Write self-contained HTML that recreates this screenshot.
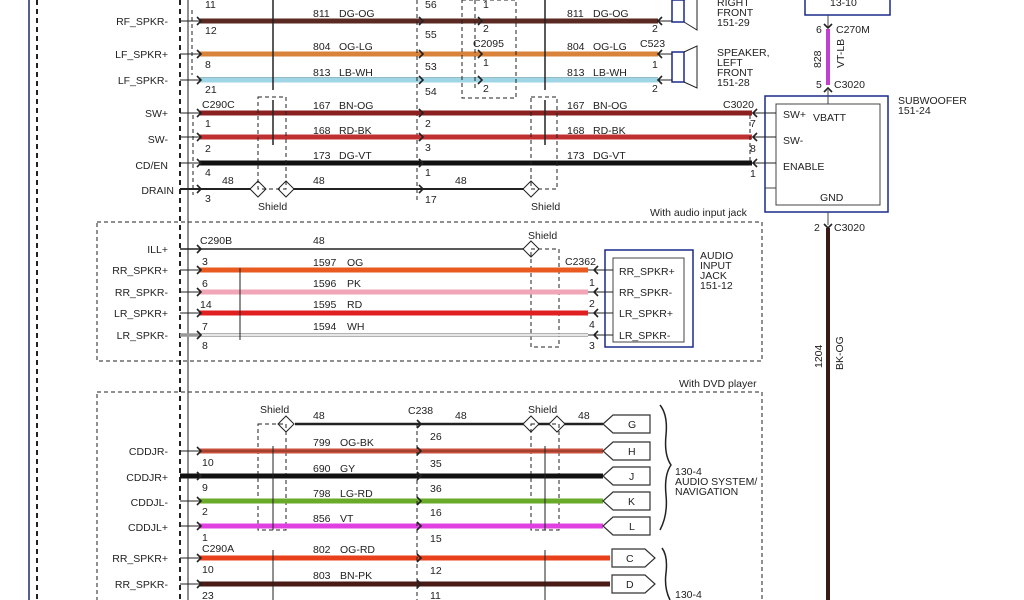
<!DOCTYPE html>
<html><head><meta charset="utf-8"><style>
html,body{margin:0;padding:0;background:#fff;width:1024px;height:600px;overflow:hidden}
svg{display:block}
text{font-family:"Liberation Sans",sans-serif;font-size:10.5px;fill:#222}
.r{text-anchor:end}
.d{stroke:#222;stroke-width:1;stroke-dasharray:4,3;fill:none}
.dt{stroke:#222;stroke-width:2;stroke-dasharray:5,4;fill:none}
.a{stroke:#222;stroke-width:1.6;fill:none}
</style></head><body>
<svg width="1024" height="600" viewBox="0 0 1024 600">
<line x1="29" y1="0" x2="29" y2="600" stroke="#1a2a6a" stroke-width="1.5"/>
<line x1="37" y1="0" x2="37" y2="600" class="dt"/>
<line x1="180" y1="0" x2="180" y2="600" class="dt"/>
<line x1="188" y1="0" x2="188" y2="600" stroke="#222" stroke-width="1"/>
<line x1="192" y1="10" x2="192" y2="75" class="d"/>
<line x1="193" y1="115" x2="193" y2="195" class="d"/>

<g>
<text x="168" y="25" class="r">RF_SPKR-</text>
<line x1="180" y1="21" x2="200" y2="21" stroke="#222"/>
<line x1="200" y1="21" x2="658" y2="21" stroke="#5a2a22" stroke-width="5"/>
<text x="205" y="34">12</text><text x="205" y="8">11</text>
<text x="313" y="17">811</text><text x="339" y="17">DG-OG</text>
<text x="567" y="17">811</text><text x="593" y="17">DG-OG</text>
<text x="425" y="8">56</text><text x="425" y="38">55</text><text x="483" y="8">1</text><text x="483" y="32">2</text><text x="652" y="32">2</text>

<text x="168" y="58" class="r">LF_SPKR+</text>
<line x1="180" y1="54" x2="200" y2="54" stroke="#222"/>
<line x1="200" y1="54" x2="658" y2="54" stroke="#d8823a" stroke-width="5"/>
<text x="205" y="68">8</text><text x="313" y="50">804</text><text x="339" y="50">OG-LG</text>
<text x="567" y="50">804</text><text x="593" y="50">OG-LG</text>
<text x="425" y="70">53</text><text x="473" y="47">C2095</text><text x="483" y="66">1</text><text x="652" y="68">1</text><text x="640" y="47">C523</text>

<text x="168" y="84" class="r">LF_SPKR-</text>
<line x1="180" y1="80" x2="200" y2="80" stroke="#222"/>
<line x1="200" y1="80" x2="658" y2="80" stroke="#9fd6e6" stroke-width="5"/>
<line x1="200" y1="77.5" x2="658" y2="77.5" stroke="#5a8a9a" stroke-width="0.6"/>
<text x="205" y="93">21</text><text x="313" y="76">813</text><text x="339" y="76">LB-WH</text>
<text x="567" y="76">813</text><text x="593" y="76">LB-WH</text>
<text x="425" y="95">54</text><text x="483" y="92">2</text><text x="652" y="92">2</text>

<rect x="462" y="0" width="54" height="98" class="d"/>
<line x1="417" y1="0" x2="417" y2="200" class="d"/>
<line x1="475" y1="0" x2="475" y2="90" class="d"/>
<line x1="273" y1="0" x2="273" y2="90" stroke="#222" stroke-width="1.5"/>
<line x1="545" y1="0" x2="545" y2="90" stroke="#222" stroke-width="1.5"/>

<g stroke="#1a2a8a" fill="none" stroke-width="1.5"><rect x="672" y="0" width="12" height="22"/><rect x="672" y="52" width="12" height="30"/></g>
<g stroke="#222" fill="none"><path d="M684 0 L697 -5 V30 L684 22"/><path d="M684 52 L697 46 V88 L684 82"/><path d="M658 21 H672 M658 54 H672 M658 80 H672"/></g>
<text x="717" y="6">RIGHT</text><text x="717" y="16">FRONT</text><text x="717" y="26">151-29</text>
<text x="717" y="56">SPEAKER,</text><text x="717" y="66">LEFT</text><text x="717" y="76">FRONT</text><text x="717" y="86">151-28</text>

<rect x="805" y="-5" width="85" height="20" fill="none" stroke="#1a2a8a" stroke-width="1.5"/>
<text x="830" y="6">13-10</text>
<line x1="828" y1="15" x2="828" y2="28" stroke="#444"/>
<line x1="828" y1="29" x2="828" y2="85" stroke="#c040d0" stroke-width="4"/>
<text x="816" y="33">6</text><text x="836" y="33">C270M</text>
<text x="816" y="88">5</text><text x="834" y="88">C3020</text>
<text transform="translate(821,68) rotate(-90)">828</text>
<text transform="translate(844,68) rotate(-90)">VT-LB</text>

<text x="168" y="117" class="r">SW+</text>
<line x1="180" y1="113" x2="200" y2="113" stroke="#222"/>
<line x1="200" y1="113" x2="752" y2="113" stroke="#8b2020" stroke-width="5"/>
<text x="202" y="108">C290C</text><text x="205" y="127">1</text><text x="313" y="109">167</text><text x="339" y="109">BN-OG</text>
<text x="567" y="109">167</text><text x="593" y="109">BN-OG</text><text x="425" y="127">2</text><text x="723" y="108">C3020</text><text x="750" y="127">7</text>

<text x="168" y="143" class="r">SW-</text>
<line x1="180" y1="137" x2="200" y2="137" stroke="#222"/>
<line x1="200" y1="137" x2="752" y2="137" stroke="#c03030" stroke-width="5"/>
<text x="205" y="152">2</text><text x="313" y="134">168</text><text x="339" y="134">RD-BK</text>
<text x="567" y="134">168</text><text x="593" y="134">RD-BK</text><text x="425" y="151">3</text><text x="750" y="152">8</text>

<text x="168" y="169" class="r">CD/EN</text>
<line x1="180" y1="163" x2="200" y2="163" stroke="#222"/>
<line x1="200" y1="163" x2="752" y2="163" stroke="#111" stroke-width="5"/>
<text x="205" y="176">4</text><text x="313" y="159">173</text><text x="339" y="159">DG-VT</text>
<text x="567" y="159">173</text><text x="593" y="159">DG-VT</text><text x="425" y="176">1</text><text x="750" y="177">1</text>

<text x="174" y="194" class="r">DRAIN</text>
<line x1="180" y1="189" x2="258" y2="189" stroke="#222" stroke-width="2"/>
<line x1="286" y1="189" x2="535" y2="189" stroke="#222" stroke-width="2"/>
<text x="222" y="184">48</text><text x="313" y="184">48</text><text x="455" y="184">48</text>
<text x="205" y="202">3</text><text x="425" y="203">17</text>
<g fill="#fff" stroke="#222"><path d="M258 181 l8 8 l-8 8 l-8 -8z"/><path d="M286 181 l8 8 l-8 8 l-8 -8z"/><path d="M531 181 l8 8 l-8 8 l-8 -8z"/></g>
<text x="258" y="210">Shield</text><text x="531" y="210">Shield</text>
<rect x="258" y="97" width="28" height="92" class="d"/>
<rect x="531" y="97" width="26" height="92" class="d"/>
<line x1="273" y1="100" x2="273" y2="145" stroke="#222" stroke-width="1.5"/>
<line x1="545" y1="100" x2="545" y2="145" stroke="#222" stroke-width="1.5"/>
<line x1="750" y1="115" x2="750" y2="165" class="d"/>

<rect x="765" y="96" width="123" height="116" fill="none" stroke="#1a2a8a" stroke-width="1.5"/>
<rect x="776" y="104" width="104" height="101" fill="none" stroke="#444"/>
<line x1="752" y1="113" x2="776" y2="113" stroke="#222"/><line x1="752" y1="137" x2="776" y2="137" stroke="#222"/><line x1="752" y1="163" x2="776" y2="163" stroke="#222"/>
<line x1="765" y1="188" x2="776" y2="188" stroke="#444"/>
<text x="783" y="118">SW+</text><text x="813" y="121">VBATT</text><text x="783" y="144">SW-</text><text x="783" y="170">ENABLE</text><text x="820" y="201">GND</text>
<text x="898" y="104">SUBWOOFER</text><text x="898" y="114">151-24</text>
<line x1="828" y1="90" x2="828" y2="104" stroke="#444"/>
<text x="650" y="216">With audio input jack</text>
<line x1="828" y1="212" x2="828" y2="225" stroke="#444"/>
<text x="814" y="231">2</text><text x="834" y="231">C3020</text>
<line x1="828" y1="228" x2="828" y2="600" stroke="#3a1a14" stroke-width="4"/>
<text transform="translate(822,368) rotate(-90)">1204</text>
<text transform="translate(843,370) rotate(-90)">BK-OG</text>

<rect x="97" y="222" width="665" height="139" class="d"/>
<text x="168" y="253" class="r">ILL+</text>
<line x1="180" y1="249" x2="524" y2="249" stroke="#222" stroke-width="1.5"/>
<text x="200" y="244">C290B</text><text x="313" y="244">48</text>
<path d="M531 241 l8 8 l-8 8 l-8 -8z" fill="#fff" stroke="#222"/><text x="528" y="239">Shield</text>
<rect x="531" y="249" width="28" height="98" class="d"/>

<text x="168" y="274" class="r">RR_SPKR+</text>
<line x1="180" y1="270" x2="200" y2="270" stroke="#222"/>
<line x1="200" y1="270" x2="588" y2="270" stroke="#e85a20" stroke-width="5"/>
<text x="202" y="265">3</text><text x="313" y="266">1597</text><text x="347" y="266">OG</text><text x="565" y="265">C2362</text>

<text x="168" y="296" class="r">RR_SPKR-</text>
<line x1="180" y1="292" x2="200" y2="292" stroke="#222"/>
<line x1="200" y1="292" x2="588" y2="292" stroke="#f0a6b6" stroke-width="5"/>
<text x="202" y="287">6</text><text x="313" y="287">1596</text><text x="347" y="287">PK</text><text x="589" y="286">1</text>

<text x="168" y="317" class="r">LR_SPKR+</text>
<line x1="180" y1="313" x2="200" y2="313" stroke="#222"/>
<line x1="200" y1="313" x2="588" y2="313" stroke="#e02020" stroke-width="5"/>
<text x="200" y="308">14</text><text x="313" y="308">1595</text><text x="347" y="308">RD</text><text x="589" y="307">2</text>

<text x="168" y="339" class="r">LR_SPKR-</text>
<line x1="180" y1="335" x2="588" y2="335" stroke="#999" stroke-width="3.5"/>
<line x1="200" y1="335" x2="588" y2="335" stroke="#fff" stroke-width="1.5"/>
<text x="202" y="330">7</text><text x="313" y="330">1594</text><text x="347" y="330">WH</text><text x="589" y="328">4</text>
<text x="202" y="349">8</text><text x="589" y="349">3</text>
<line x1="240" y1="268" x2="240" y2="340" stroke="#222" stroke-width="1"/>
<rect x="605" y="250" width="88" height="97" fill="none" stroke="#1a2a8a" stroke-width="1.5"/>
<rect x="613" y="258" width="71" height="84" fill="none" stroke="#444"/>
<g stroke="#222"><line x1="588" y1="270" x2="613" y2="270"/><line x1="588" y1="292" x2="613" y2="292"/><line x1="588" y1="313" x2="613" y2="313"/><line x1="588" y1="335" x2="613" y2="335"/></g>
<text x="619" y="275">RR_SPKR+</text><text x="619" y="296">RR_SPKR-</text><text x="619" y="317">LR_SPKR+</text><text x="619" y="339">LR_SPKR-</text>
<text x="700" y="259">AUDIO</text><text x="700" y="269">INPUT</text><text x="700" y="279">JACK</text><text x="700" y="289">151-12</text>

<text x="679" y="387">With DVD player</text>
<rect x="97" y="392" width="665" height="220" class="d"/>
<text x="260" y="413">Shield</text><text x="528" y="413">Shield</text>
<line x1="295" y1="424" x2="603" y2="424" stroke="#222" stroke-width="2.5"/>
<g fill="#fff" stroke="#222"><path d="M286 416 l8 8 l-8 8 l-8 -8z"/><path d="M531 416 l8 8 l-8 8 l-8 -8z"/><path d="M557 416 l8 8 l-8 8 l-8 -8z"/></g>
<text x="313" y="419">48</text><text x="408" y="414">C238</text><text x="455" y="419">48</text><text x="578" y="419">48</text><text x="430" y="440">26</text>
<rect x="258" y="424" width="28" height="106" class="d"/>
<rect x="531" y="424" width="28" height="106" class="d"/>

<text x="168" y="455" class="r">CDDJR-</text>
<line x1="180" y1="451" x2="200" y2="451" stroke="#222"/>
<line x1="200" y1="451" x2="603" y2="451" stroke="#c8503c" stroke-width="5"/><line x1="200" y1="451" x2="603" y2="451" stroke="#6a2a1a" stroke-width="0.8"/>
<text x="202" y="466">10</text><text x="313" y="446">799</text><text x="340" y="446">OG-BK</text><text x="430" y="467">35</text>

<text x="168" y="481" class="r">CDDJR+</text>
<line x1="180" y1="476" x2="603" y2="476" stroke="#111" stroke-width="5"/>
<text x="202" y="491">9</text><text x="313" y="472">690</text><text x="340" y="472">GY</text><text x="430" y="492">36</text>

<text x="168" y="506" class="r">CDDJL-</text>
<line x1="180" y1="501" x2="200" y2="501" stroke="#222"/>
<line x1="200" y1="501" x2="603" y2="501" stroke="#6aaa2a" stroke-width="5"/>
<text x="202" y="515">2</text><text x="313" y="497">798</text><text x="340" y="497">LG-RD</text><text x="430" y="516">16</text>

<text x="168" y="531" class="r">CDDJL+</text>
<line x1="180" y1="526" x2="200" y2="526" stroke="#222"/>
<line x1="200" y1="526" x2="603" y2="526" stroke="#e040e0" stroke-width="5"/>
<text x="202" y="541">1</text><text x="313" y="522">856</text><text x="340" y="522">VT</text><text x="430" y="542">15</text>

<text x="168" y="562" class="r">RR_SPKR+</text>
<line x1="180" y1="558" x2="200" y2="558" stroke="#222"/>
<line x1="200" y1="558" x2="610" y2="558" stroke="#e8401a" stroke-width="5"/>
<text x="202" y="552">C290A</text><text x="202" y="573">10</text><text x="313" y="553">802</text><text x="340" y="553">OG-RD</text><text x="430" y="574">12</text>

<text x="168" y="588" class="r">RR_SPKR-</text>
<line x1="180" y1="584" x2="200" y2="584" stroke="#222"/>
<line x1="200" y1="584" x2="610" y2="584" stroke="#4a1a14" stroke-width="5"/>
<text x="202" y="599">23</text><text x="313" y="579">803</text><text x="340" y="579">BN-PK</text><text x="430" y="599">11</text>

<line x1="273" y1="446" x2="273" y2="530" stroke="#222"/>
<line x1="545" y1="446" x2="545" y2="530" stroke="#222"/>
<line x1="273" y1="550" x2="273" y2="600" stroke="#222"/>
<line x1="545" y1="550" x2="545" y2="600" stroke="#222"/>
<line x1="417" y1="424" x2="417" y2="600" class="d"/>

<g fill="#fff" stroke="#333" stroke-width="1.2">
<path d="M603 424 l10 -9 h37 v18 h-37z"/><path d="M603 451 l10 -9 h37 v18 h-37z"/><path d="M603 476 l10 -9 h37 v18 h-37z"/><path d="M603 501 l10 -9 h37 v18 h-37z"/><path d="M603 526 l10 -9 h37 v18 h-37z"/>
<path d="M612 549 h33 l10 9 l-10 9 h-33z"/><path d="M612 575 h33 l10 9 l-10 9 h-33z"/>
</g>
<text x="628" y="428">G</text><text x="628" y="455">H</text><text x="629" y="480">J</text><text x="628" y="505">K</text><text x="629" y="530">L</text><text x="626" y="562">C</text><text x="626" y="588">D</text>
<path d="M660 405 q8 10 6 30 q-2 20 5 30 q-7 10 -5 30 q2 20 -6 35" fill="none" stroke="#222" stroke-width="1.5"/>
<path d="M662 548 q6 8 4 25 q-2 15 4 27" fill="none" stroke="#222" stroke-width="1.5"/>
<text x="675" y="475">130-4</text><text x="675" y="485">AUDIO SYSTEM/</text><text x="675" y="495">NAVIGATION</text>
<text x="675" y="598">130-4</text>

<g class="a">
<path d="M197 17 l4 4 l-4 4"/><path d="M197 50 l4 4 l-4 4"/><path d="M197 76 l4 4 l-4 4"/><path d="M197 109 l4 4 l-4 4"/><path d="M197 133 l4 4 l-4 4"/><path d="M197 159 l4 4 l-4 4"/><path d="M197 185 l4 4 l-4 4"/>
<path d="M419 17 l4 4 l-4 4"/><path d="M419 50 l4 4 l-4 4"/><path d="M419 76 l4 4 l-4 4"/><path d="M419 109 l4 4 l-4 4"/><path d="M419 133 l4 4 l-4 4"/><path d="M419 159 l4 4 l-4 4"/><path d="M419 185 l4 4 l-4 4"/>
<path d="M478 17 l4 4 l-4 4"/><path d="M478 50 l4 4 l-4 4"/><path d="M478 76 l4 4 l-4 4"/>
<path d="M662 17 l-4 4 l4 4"/><path d="M662 50 l-4 4 l4 4"/><path d="M662 76 l-4 4 l4 4"/>
<path d="M757 109 l-4 4 l4 4"/><path d="M757 133 l-4 4 l4 4"/><path d="M757 159 l-4 4 l4 4"/>
<path d="M197 266 l4 4 l-4 4"/><path d="M197 288 l4 4 l-4 4"/><path d="M197 309 l4 4 l-4 4"/><path d="M197 331 l4 4 l-4 4"/><path d="M197 245 l4 4 l-4 4"/>
<path d="M598 266 l-4 4 l4 4"/><path d="M598 288 l-4 4 l4 4"/><path d="M598 309 l-4 4 l4 4"/><path d="M598 331 l-4 4 l4 4"/>
<path d="M197 447 l4 4 l-4 4"/><path d="M197 472 l4 4 l-4 4"/><path d="M197 497 l4 4 l-4 4"/><path d="M197 522 l4 4 l-4 4"/><path d="M197 554 l4 4 l-4 4"/><path d="M197 580 l4 4 l-4 4"/>
<path d="M417 420 l4 4 l-4 4"/><path d="M417 447 l4 4 l-4 4"/><path d="M417 472 l4 4 l-4 4"/><path d="M417 497 l4 4 l-4 4"/><path d="M417 522 l4 4 l-4 4"/><path d="M417 554 l4 4 l-4 4"/><path d="M417 580 l4 4 l-4 4"/>
<path d="M824 24 l4 4 l4 -4"/><path d="M824 92 l4 -4 l4 4"/><path d="M824 224 l4 4 l4 -4"/>
</g>
</svg>
</body></html>
